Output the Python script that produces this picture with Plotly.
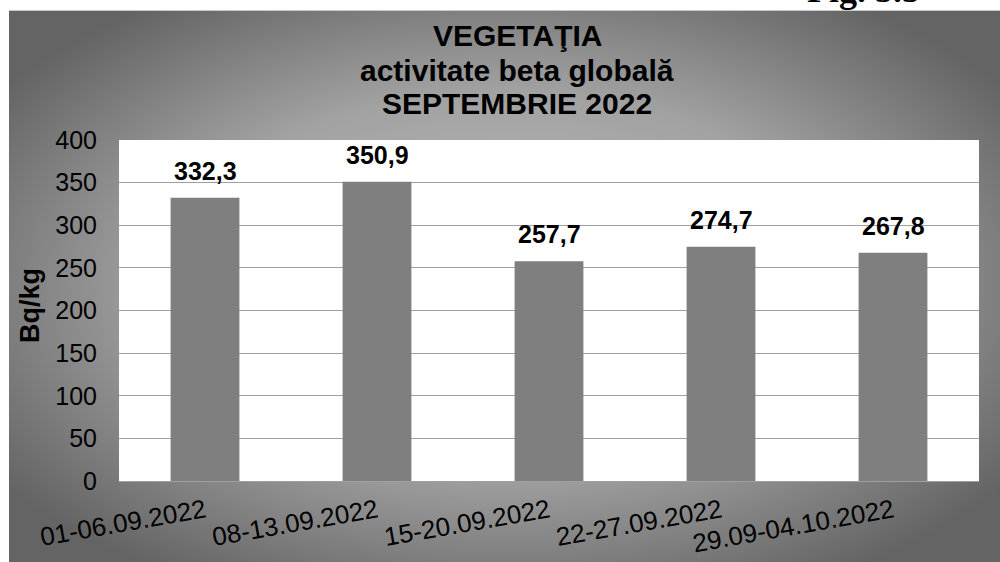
import base64
import plotly.graph_objects as go

categories = ["01-06.09.2022", "08-13.09.2022", "15-20.09.2022", "22-27.09.2022", "29.09-04.10.2022"]
values = [332.3, 350.9, 257.7, 274.7, 267.8]
y_ticks = [0, 50, 100, 150, 200, 250, 300, 350, 400]
title_lines = ["VEGETAŢIA", "activitate beta globală", "SEPTEMBRIE 2022"]

W, H = 1000, 562
ML, MR, MT, MB = 119, 21, 140, 81
PW, PH = W - ML - MR, H - MT - MB

def px_x(px):
    return (px - ML) / PW

def px_y(py):
    return (H - MB - py) / PH

FONT = "Liberation Sans, Arial, sans-serif"

svg = (
    '<svg xmlns="http://www.w3.org/2000/svg" width="991" height="552" viewBox="0 0 991 552" preserveAspectRatio="none">'
    '<defs><radialGradient id="g" cx="0.5" cy="0.5" r="0.62" fx="0.5" fy="0.48">'
    '<stop offset="0" stop-color="#bcbcbc"/>'
    '<stop offset="0.55" stop-color="#a2a2a2"/>'
    '<stop offset="1" stop-color="#646464"/>'
    '</radialGradient></defs>'
    '<rect x="0" y="0" width="991" height="552" fill="url(#g)"/>'
    '<line x1="0" y1="0.5" x2="991" y2="0.5" stroke="#c8c8c8" stroke-width="1"/>'
    '</svg>'
)
bg_src = "data:image/svg+xml;base64," + base64.b64encode(svg.encode()).decode()

fig = go.Figure()
fig.add_trace(go.Bar(
    x=categories, y=values,
    marker=dict(color="#7f7f7f", line=dict(width=0)),
    width=0.4,
    hoverinfo="skip",
))

annotations = []
for c, v in zip(categories, values):
    annotations.append(dict(
        x=c, y=v, xref="x", yref="y",
        text=f"{v:.1f}".replace(".", ","),
        showarrow=False, yanchor="middle", yshift=27,
        font=dict(family=FONT, size=25, color="black", weight="bold"),
    ))

# Title (three lines, tighter spacing than Plotly's default)
for line, yc in zip(title_lines, [35, 71, 103]):
    annotations.append(dict(
        x=px_x(517), y=px_y(yc), xref="paper", yref="paper",
        text=f"<b>{line}</b>",
        showarrow=False, xanchor="center", yanchor="middle",
        font=dict(family=FONT, size=30, color="black"),
    ))
# Y axis title
annotations.append(dict(
    x=px_x(30), y=px_y(306), xref="paper", yref="paper",
    text="<b>Bq/kg</b>", textangle=-90,
    showarrow=False, xanchor="center", yanchor="middle",
    font=dict(family=FONT, size=27, color="black"),
))
# Figure number (cut off at top of page, as in the source)
annotations.append(dict(
    x=px_x(805), y=px_y(-10), xref="paper", yref="paper",
    text="<b>Fig. 5.5</b>",
    showarrow=False, xanchor="left", yanchor="middle",
    font=dict(family="Liberation Serif, Times New Roman, serif", size=36, color="black"),
))

fig.update_layout(
    width=W, height=H,
    autosize=False,
    margin=dict(l=ML, r=MR, t=MT, b=MB, autoexpand=False),
    paper_bgcolor="white",
    plot_bgcolor="white",
    showlegend=False,
    separators=", ",
    bargap=0.6,
    annotations=annotations,
    images=[dict(
        source=bg_src, xref="paper", yref="paper",
        x=px_x(9), y=px_y(10), sizex=(W - 9) / PW, sizey=(H - 10) / PH,
        xanchor="left", yanchor="top", sizing="stretch", layer="below",
    )],
    shapes=[dict(
        type="rect", xref="paper", yref="paper", x0=0, x1=1, y0=0, y1=1,
        fillcolor="white", line=dict(width=0), layer="below",
    )],
    font=dict(family=FONT, size=25, color="black"),
)
fig.update_xaxes(
    automargin=False,
    tickangle=-10,
    tickfont=dict(family=FONT, size=26, color="black"),
    showline=True, linecolor="#a0a0a0", linewidth=1,
    showgrid=False, ticks="", ticklabelstandoff=4,
)
fig.update_yaxes(
    automargin=False,
    range=[0, 400], tickvals=y_ticks,
    tickfont=dict(family=FONT, size=25, color="black"),
    showgrid=True, gridcolor="#a0a0a0", gridwidth=1,
    zeroline=False, ticks="", ticklabelstandoff=21,
)

fig.write_html(
    "out.html",
    config={"displayModeBar": False, "responsive": False},
    post_script="document.body.style.margin='0';",
)
